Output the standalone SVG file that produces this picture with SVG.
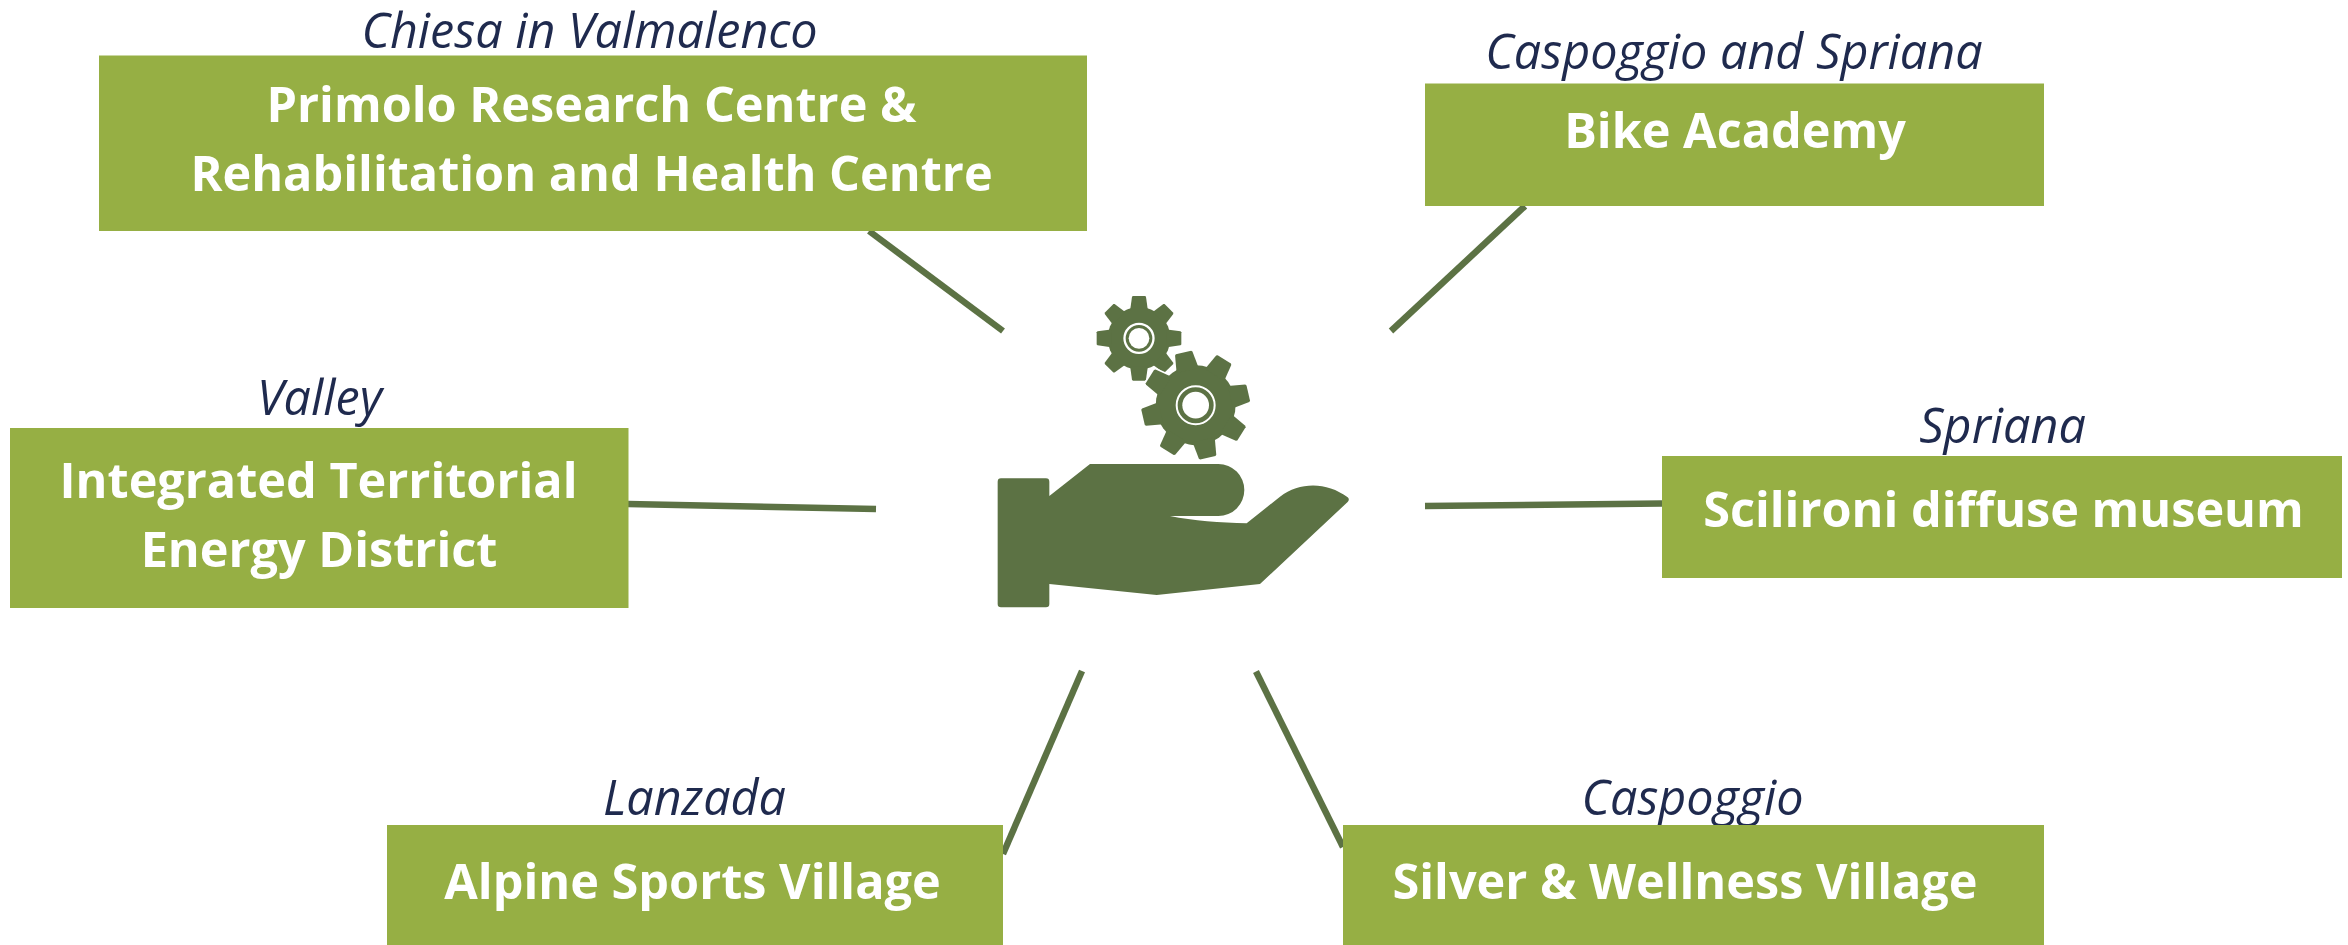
<svg xmlns="http://www.w3.org/2000/svg" xmlns:xlink="http://www.w3.org/1999/xlink" width="2348" height="945" viewBox="0 0 2348 945">
<style>
.box{fill:#96af44}
.t{font-family:"Open Sans","Noto Sans",sans-serif;font-weight:700;font-size:48.600px;fill:#fff;text-anchor:middle}
.l{font-family:"Open Sans","Noto Sans",sans-serif;font-style:italic;font-size:48.500px;fill:#1f2a4e;text-anchor:middle}
.c{stroke:#5c7244;stroke-width:6.500;fill:none}
.ic{fill:#5c7244}
</style>
<defs>
<g id="gearShape">
<circle r="0.74"/>
<g id="t4">
<polygon id="tooth" points="-0.21,-0.66 -0.165,-0.98 -0.145,-1 0.145,-1 0.165,-0.98 0.21,-0.66"/>
<use xlink:href="#tooth" href="#tooth" transform="rotate(45)"/>
<use xlink:href="#tooth" href="#tooth" transform="rotate(90)"/>
<use xlink:href="#tooth" href="#tooth" transform="rotate(135)"/>
</g>
<use xlink:href="#t4" href="#t4" transform="rotate(180)"/>
</g>
</defs>
<rect width="2348" height="945" fill="#fff"/>
<g id="connectors">
<line class="c" x1="869" y1="231" x2="1003" y2="331"/>
<line class="c" x1="1525" y1="206" x2="1391" y2="331"/>
<line class="c" x1="628" y1="504" x2="876" y2="509"/>
<line class="c" x1="1662" y1="503.500" x2="1425" y2="506"/>
<line class="c" x1="1082" y1="671" x2="1003" y2="854"/>
<line class="c" x1="1256" y1="671.500" x2="1343" y2="847"/>
</g>
<g id="center-icon" transform="translate(960 270) scale(.33333)">
<path class="ic" d="M123 625H258Q268 625 268 635V678L390 582H775A78 78 0 0 1 775 738H630C700 752 780 758 860 760L960 680C1020 635 1100 635 1163 682Q1170 688 1163 696L900 942L590 975L268 942V1002Q268 1012 258 1012H123Q113 1012 113 1002V635Q113 625 123 625Z"/>
<g class="ic" transform="translate(537 205) scale(127)"><use xlink:href="#gearShape" href="#gearShape"/></g>
<circle cx="537" cy="205" r="43.500" fill="none" stroke="#fff" stroke-width="7"/>
<circle cx="537" cy="205" r="31" fill="#fff"/>
<g transform="translate(707 405.500) rotate(-13) scale(162)"><use xlink:href="#gearShape" href="#gearShape" fill="#fff" stroke="#fff" stroke-width="0.06" stroke-linejoin="round"/></g>
<g class="ic" transform="translate(707 405.500) rotate(-13) scale(162)"><use xlink:href="#gearShape" href="#gearShape"/></g>
<circle cx="707" cy="405.500" r="57" fill="none" stroke="#fff" stroke-width="6"/>
<circle cx="707" cy="405.500" r="40" fill="#fff"/>
</g>
<g id="node-primolo">
<text class="l" x="589.500" y="47.500">Chiesa in Valmalenco</text>
<rect class="box" x="99" y="55.500" width="988" height="175.500"/>
<text class="t" x="591.500" y="121.500">Primolo Research Centre &amp;</text>
<text class="t" x="591.500" y="190.500">Rehabilitation and Health Centre</text>
</g>
<g id="node-bike">
<text class="l" x="1734" y="69">Caspoggio and Spriana</text>
<rect class="box" x="1425" y="83.500" width="619" height="122.500"/>
<text class="t" x="1735" y="148">Bike Academy</text>
</g>
<g id="node-energy">
<text class="l" x="319.500" y="414.500">Valley</text>
<rect class="box" x="10" y="428" width="618.500" height="180"/>
<text class="t" x="318.500" y="497.500">Integrated Territorial</text>
<text class="t" x="319" y="566.500">Energy District</text>
</g>
<g id="node-museum">
<text class="l" x="2002.500" y="442.500">Spriana</text>
<rect class="box" x="1662" y="456" width="680" height="122"/>
<text class="t" x="2003.500" y="526.500">Scilironi diffuse museum</text>
</g>
<g id="node-alpine">
<text class="l" x="694.500" y="815">Lanzada</text>
<rect class="box" x="387" y="825" width="616" height="120"/>
<text class="t" x="692.500" y="899">Alpine Sports Village</text>
</g>
<g id="node-silver">
<text class="l" x="1692.500" y="815">Caspoggio</text>
<rect class="box" x="1343" y="825" width="701" height="120"/>
<text class="t" x="1685" y="899">Silver &amp; Wellness Village</text>
</g>
</svg>
